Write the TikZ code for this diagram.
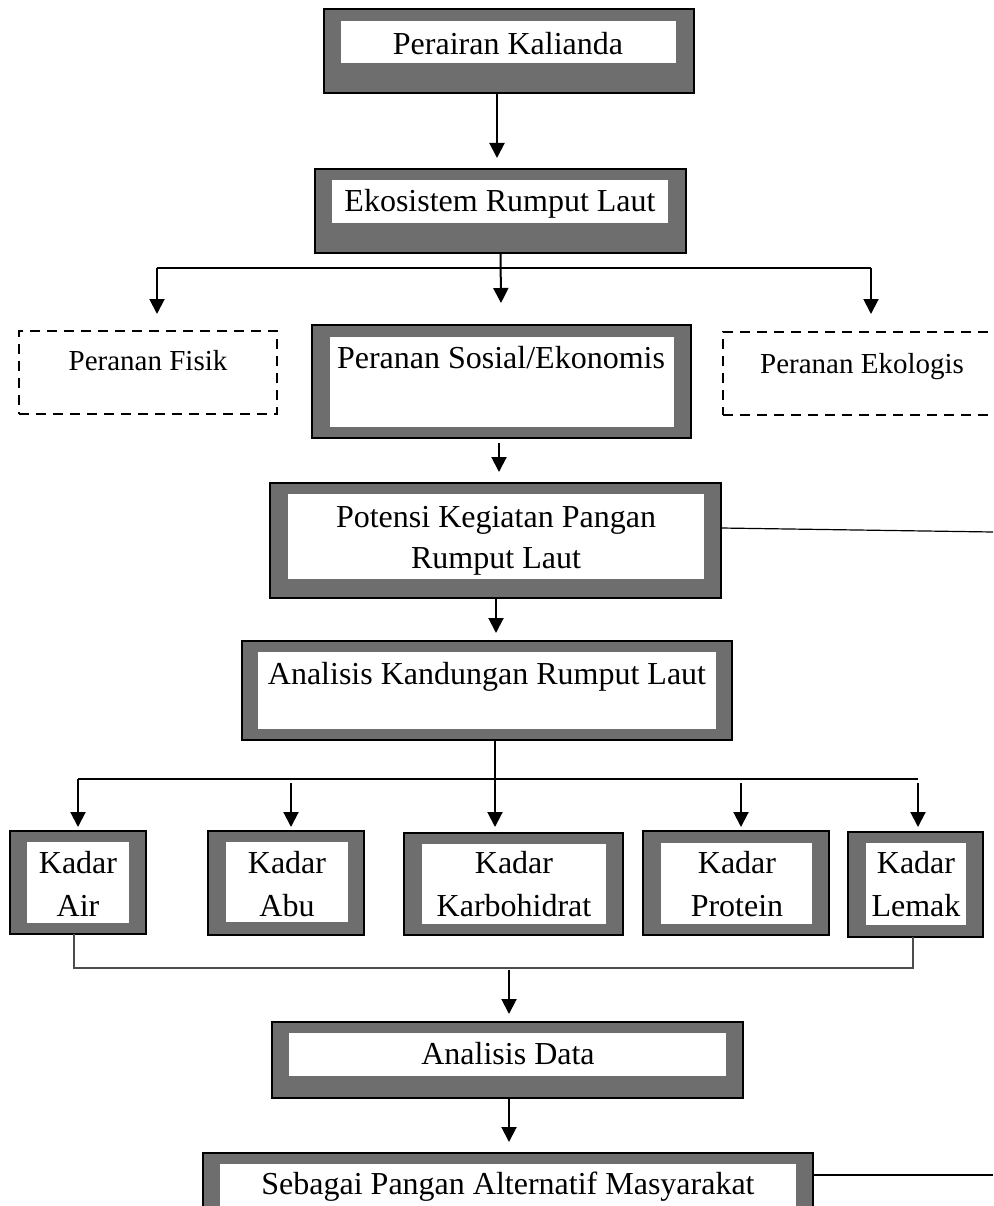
\documentclass[tikz,border=0pt]{standalone}
\usepackage{fontspec}
\setmainfont{Liberation Serif}
\usetikzlibrary{arrows.meta}
\definecolor{boxgray}{HTML}{6E6E6E}
\newcommand\gbox[9]{%
  \node[outerbox,minimum width={#4-#2},minimum height={#5-#3}] (#1) at ({(#2+#4)/2},{(#3+#5)/2}) {};
  \fill[white] (#6,#7) rectangle (#8,#9);}
\begin{document}
\begin{tikzpicture}[x=1pt,y=-1pt,
  outerbox/.style={draw=black,line width=2pt,fill=boxgray,inner sep=0pt,outer sep=0pt,rectangle},
  dashbox/.style={draw=black,line width=2pt,dash pattern=on 10pt off 7pt,inner sep=0pt,outer sep=0pt,rectangle},
  txt/.style={font=\fontsize{32}{41}\selectfont,inner sep=0pt,anchor=base},
  stxt/.style={font=\fontsize{29}{35}\selectfont,inner sep=0pt,anchor=base},
  arr/.style={line width=2pt,-{Triangle[width=15pt,length=15pt]}},
  thinline/.style={line width=1.2pt},
  collect/.style={line width=1.2pt,draw=black!70}]
\useasboundingbox (0,0) rectangle (993,1206);
\clip (0,0) rectangle (993,1206);
% boxes
\gbox{b1}{324}{9}{694}{93}{341}{21}{676}{63}
\node[txt] (t1) at (508,55) {Perairan Kalianda};
\gbox{b2}{315}{169}{686}{253}{332}{180}{668}{223}
\node[txt] (t2) at (500,212) {Ekosistem Rumput Laut};
\node[dashbox,minimum width=258pt,minimum height=83pt] (fisik) at (148,372.5) {};
\node[stxt] (t3) at (148,370) {Peranan Fisik};
\gbox{sosial}{312}{325}{691}{438}{330}{337}{674}{427}
\node[txt] (t4) at (501,368) {Peranan Sosial/Ekonomis};
\node[dashbox,minimum width=278pt,minimum height=83pt] (ekol) at (862,373.5) {};
\node[stxt] (t5) at (862,373) {Peranan Ekologis};
\gbox{potensi}{270}{483}{721}{598}{288}{494}{704}{579}
\node[txt] (t6a) at (496,527) {Potensi Kegiatan Pangan};
\node[txt] (t6b) at (496,568) {Rumput Laut};
\gbox{kand}{242}{641}{732}{740}{258}{652}{716}{729}
\node[txt] (t7) at (487,684) {Analisis Kandungan Rumput Laut};
\gbox{air}{10}{831}{146}{934}{27}{842}{129}{923}
\node[txt] (t8a) at (78,873) {Kadar};
\node[txt] (t8b) at (78,916) {Air};
\gbox{abu}{208}{831}{364}{935}{226}{842}{348}{922}
\node[txt] (t9a) at (287,873) {Kadar};
\node[txt] (t9b) at (287,916) {Abu};
\gbox{karbo}{404}{833}{623}{935}{422}{844}{606}{924}
\node[txt] (t10a) at (514,873) {Kadar};
\node[txt] (t10b) at (514,916) {Karbohidrat};
\gbox{protein}{643}{831}{829}{935}{661}{843}{812}{924}
\node[txt] (t11a) at (737,873) {Kadar};
\node[txt] (t11b) at (737,916) {Protein};
\gbox{lemak}{848}{832}{983}{937}{866}{843}{966}{925}
\node[txt] (t12a) at (916,873) {Kadar};
\node[txt] (t12b) at (916,916) {Lemak};
\gbox{data}{272}{1022}{743}{1098}{289}{1033}{726}{1076}
\node[txt] (t13) at (508,1064) {Analisis Data};
\gbox{seb}{203}{1153}{813}{1229}{220}{1164}{796}{1208}
\node[txt] (t14) at (508,1194) {Sebagai Pangan Alternatif Masyarakat};
% coordinates
\coordinate (brL) at (157,268);
\coordinate (brR) at (871,268);
\coordinate (tipS) at (501,303);
\coordinate (tipF) at (157,314);
\coordinate (tipE) at (871,314);
\coordinate (rA) at (993,532);
\coordinate (kL) at (78,779);
\coordinate (kR) at (918,779);
\coordinate (kA) at (291,783);
\coordinate (kP) at (741,783);
\coordinate (kLm) at (918,783);
\coordinate (cM) at (500,968);
\coordinate (cArr) at (509,970);
\coordinate (rB) at (993,1175);
% connectors
\draw[arr] ([xshift=-12pt]b1.south) -- ([xshift=-3.5pt,yshift=11pt]b2.north);
\draw[thinline] (brL) -- (brR);
\draw[arr] (b2.south) -- (tipS);
\draw[arr] (brL) -- (tipF);
\draw[arr] (brR) -- (tipE);
\draw[arr] ([xshift=-2.5pt,yshift=-5pt]sosial.south) -- ([xshift=3.5pt,yshift=11pt]potensi.north);
\draw[thinline] ([yshift=12.5pt]potensi.east) -- (rA);
\draw[arr] ([xshift=0.5pt]potensi.south) -- ([xshift=9pt,yshift=8pt]kand.north);
\draw[arr] ([xshift=8pt]kand.south) -- ([xshift=-18.5pt,yshift=6pt]karbo.north);
\draw[thinline] (kL) -- (kR);
\draw[arr] (kL) -- ([yshift=4pt]air.north);
\draw[arr] (kA) -- ([xshift=5pt,yshift=4pt]abu.north);
\draw[arr] (kP) -- ([xshift=5pt,yshift=4pt]protein.north);
\draw[arr] (kLm) -- ([xshift=2.5pt,yshift=5pt]lemak.north);
\draw[collect] ([xshift=-4pt]air.south) |- (cM) -| ([xshift=-2.5pt]lemak.south);
\draw[arr] (cArr) -- ([xshift=1.5pt,yshift=8pt]data.north);
\draw[arr] ([xshift=1.5pt]data.south) -- ([xshift=1pt,yshift=11pt]seb.north);
\draw[thinline] ([yshift=16pt]seb.east) -- (rB);
\end{tikzpicture}
\end{document}
